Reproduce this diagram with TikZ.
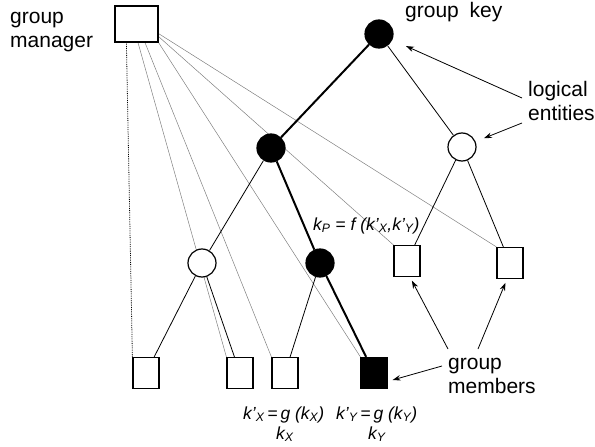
\documentclass[tikz,border=0pt]{standalone}
\usepackage{fontspec}
\setmainfont{Liberation Sans}
\usetikzlibrary{backgrounds,arrows.meta}

\begin{document}
\begin{tikzpicture}
  [
    x=1pt, y=-1pt,
    key/.style={
      circle,
      draw,
      line width=1.2pt,
      minimum size=28pt,
      inner sep=0pt
    },
    solid key/.style={
      key,
      fill=black
    },
    open key/.style={
      key,
      fill=white
    },
    member/.style={
      draw,
      line width=1.2pt,
      fill=white,
      minimum width=26pt,
      minimum height=31pt,
      inner sep=0pt
    },
    label/.style={
      inner sep=0pt,
      align=left,
      font=\fontsize{21}{24}\selectfont
    },
    formula/.style={
      inner sep=0pt,
      font=\fontsize{17.5}{20}\selectfont\itshape
    },
    edge/.style={line width=.8pt},
    path/.style={line width=2pt},
    link/.style={gray, line width=.5pt},
    pointer/.style={line width=.8pt, -{Stealth[length=8pt,width=5.5pt]}}
  ]

  \useasboundingbox (0,0) rectangle (595,447);

  % the tree
  \node [member, minimum width=43pt, minimum height=36pt] (mgr) at (136.5,24) {};
  \node [solid key] (root) at (379,34) {};
  \node [solid key] (kl) at (271,148) {};
  \node [open key] (kr) at (462,147) {};
  \node [open key] (kll) at (202,263) {};
  \node [solid key] (klr) at (320,263) {};
  \node [member] (r1) at (407,261) {};
  \node [member] (r2) at (510,263) {};
  \node [member] (m1) at (146,373) {};
  \node [member] (m2) at (240,373) {};
  \node [member] (m3) at (285,373) {};
  \node [member, fill=black] (m4) at (374,373) {};

  \begin{scope}[on background layer]
    \draw [densely dotted, line width=.8pt] ([xshift=12pt]mgr.south west) -- (m1.north west);
    \draw [link] ([xshift=1.5pt]mgr.south) -- (m2.north west);
    \draw [link] ([xshift=8.5pt]mgr.south) -- (m3.north west);
    \draw [link] (mgr.south east) -- (m4.north west);
    \draw [link] ([yshift=6pt]mgr.south east) -- (r1.north west);
    \draw [link] ([yshift=9pt]mgr.south east) -- (r2.north west);

    \draw [path] (root) -- (kl);
    \draw [edge] (root) -- (kr);
    \draw [edge] (kl) -- (kll);
    \draw [path] (kl) -- (klr);
    \draw [edge] (kr) -- (r1);
    \draw [edge] (kr) -- (r2);
    \draw [edge] (kll) -- (m1);
    \draw [edge] (kll) -- (m2);
    \draw [edge] (klr) -- (m3);
    \draw [path] (klr) -- (m4);
  \end{scope}

  % labels
  \node [label, anchor=base west] (lblmgr) at (10,47) {group\\manager};
  \node [label, anchor=base west] (lblkey) at (405,17) {group\hspace{5pt} key};
  \node [label, anchor=base west] (lblent) at (528,120) {logical\\entities};
  \node [label, anchor=base west] (lblmem) at (448,393) {group\\members};

  \node [formula, anchor=base west] (lblfp) at (313,230)
    {k\textsubscript{P} = f (k’\textsubscript{X},k’\textsubscript{Y})};
  \node [formula, anchor=base west] (lblgx) at (243,419)
    {k’\textsubscript{X}\,=\,g (k\textsubscript{X})};
  \node [formula, anchor=base west] (lblkx) at (276,439) {k\textsubscript{X}};
  \node [formula, anchor=base west] (lblgy) at (336,419)
    {k’\textsubscript{Y}\,=\,g (k\textsubscript{Y})};
  \node [formula, anchor=base west] (lblky) at (368,439) {k\textsubscript{Y}};

  % arrows
  \draw [pointer, shorten >=15pt] ([xshift=-6pt,yshift=22pt]lblent.base west) -- (root);
  \draw [pointer, shorten >=9pt] ([xshift=-6pt,yshift=-3pt]lblent.base west) -- (kr);
  \draw [pointer, shorten >=4pt] ([yshift=44pt]lblmem.base west) -- ([xshift=3pt]r1.south);
  \draw [pointer, shorten >=4pt] ([xshift=30pt,yshift=44pt]lblmem.base west) -- ([xshift=-3pt]r2.south);
  \draw [pointer] ([xshift=-6pt,yshift=27pt]lblmem.base west) -- ([xshift=5pt,yshift=-7pt]m4.east);

\end{tikzpicture}
\end{document}
